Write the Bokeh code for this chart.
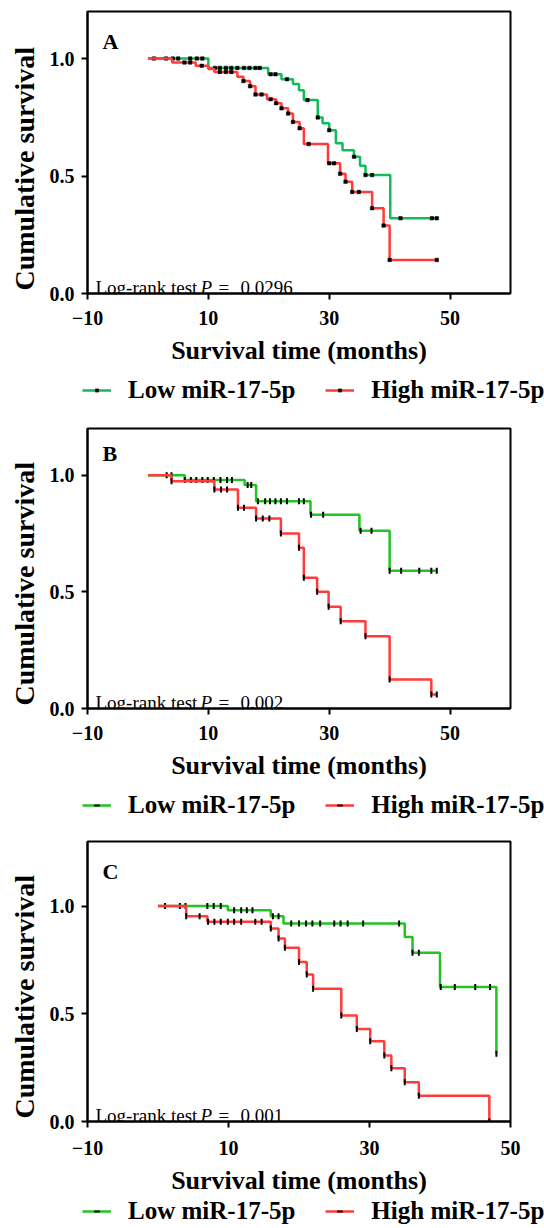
import numpy as np
from bokeh.plotting import figure
from bokeh.models import Range1d, FixedTicker, NumeralTickFormatter, Label, Legend, LegendItem, Title
from bokeh.layouts import column
from bokeh.embed import file_html
from bokeh.resources import INLINE

FONT = "Liberation Serif"

# ---------------- data ----------------
x_ticks = [-10, 10, 30, 50]
y_ticks = [0.0, 0.5, 1.0]
group_names = ["Low miR-17-5p", "High miR-17-5p"]

# Panel A
a_low_t = [0, 10.0, 19.9, 22.1, 24.0, 25.0, 25.8, 28.1, 28.9, 30.0, 31.1, 32.2, 34.1, 35.1, 36.0, 40.1, 47.8]
a_low_s = [1.0, 0.960, 0.933, 0.912, 0.891, 0.865, 0.823, 0.749, 0.724, 0.695, 0.639, 0.610, 0.582, 0.544, 0.504, 0.320, 0.320]
a_low_cens = [1.0, 3.0, 4.1, 5.0, 7.0, 8.1, 9.0, 11.1, 11.9, 12.9, 13.8, 14.8, 15.9, 16.8, 17.8, 18.5,
              20.3, 21.1, 23.0, 26.4, 28.1, 30.0, 34.1, 36.0, 37.1, 41.8, 47.0, 47.8]
a_high_t = [0, 4.0, 7.9, 10.0, 11.0, 14.8, 15.8, 16.9, 17.8, 19.7, 21.2, 22.1, 23.2, 24.0, 25.1, 25.8,
            29.8, 31.8, 32.7, 33.8, 37.1, 39.0, 40.0, 47.8]
a_high_s = [1.0, 0.983, 0.969, 0.955, 0.943, 0.922, 0.904, 0.882, 0.847, 0.827, 0.810, 0.788, 0.766, 0.730,
            0.703, 0.636, 0.554, 0.510, 0.476, 0.432, 0.363, 0.289, 0.143, 0.143]
a_high_cens = [6.05, 7.0, 8.9, 11.9, 12.9, 13.8, 15.8, 16.9, 17.8, 18.8, 20.3, 21.2, 22.1, 23.2, 24.0, 25.1,
               26.6, 30.0, 30.8, 31.8, 32.7, 33.8, 34.9, 37.1, 39.0, 40.0, 47.8]
a_pvalue = "0.0296"

# Panel B
b_low_t = [0, 6.1, 16.0, 17.9, 26.9, 35.0, 40.0, 47.8]
b_low_s = [1.0, 0.979, 0.958, 0.888, 0.830, 0.762, 0.590, 0.590]
b_low_cens = [3.1, 3.9, 6.1, 7.1, 8.0, 9.0, 9.9, 10.9, 12.0, 13.1, 13.9, 16.5, 17.1, 18.2, 19.4, 20.2, 21.1,
              22.0, 23.0, 25.0, 25.8, 27.0, 29.0, 35.2, 37.0, 40.0, 41.9, 44.9, 46.9, 47.8]
b_high_t = [0, 3.9, 11.0, 14.9, 17.9, 22.0, 25.0, 25.8, 28.0, 29.9, 31.9, 36.0, 40.0, 46.9, 47.8]
b_high_s = [1.0, 0.974, 0.939, 0.860, 0.814, 0.750, 0.689, 0.560, 0.500, 0.436, 0.374, 0.310, 0.124, 0.060, 0.060]
b_high_cens = [3.9, 11.0, 12.1, 13.1, 14.9, 15.9, 17.9, 19.0, 20.1, 22.0, 25.0, 25.8, 28.0, 29.9, 31.9,
               36.0, 40.0, 46.9, 47.8]
b_pvalue = "0.002"

# Panel C
c_low_t = [0, 9.9, 16.0, 17.8, 35.0, 36.1, 40.0, 48.0]
c_low_s = [1.0, 0.981, 0.953, 0.919, 0.857, 0.783, 0.624, 0.314]
c_low_cens = [1.0, 3.1, 3.9, 7.0, 7.9, 8.9, 10.8, 11.8, 12.6, 13.4, 16.3, 17.1, 18.9, 20.0, 21.0, 21.9,
              23.0, 25.0, 25.9, 26.9, 29.1, 34.2, 36.1, 37.0, 40.1, 42.1, 45.0, 47.1, 48.0]
c_high_t = [0, 4.0, 7.0, 16.0, 17.1, 18.0, 20.0, 21.1, 22.0, 26.0, 28.2, 30.1, 32.1, 33.1, 35.0, 37.0, 47.0]
c_high_s = [1.0, 0.953, 0.927, 0.896, 0.850, 0.807, 0.741, 0.683, 0.616, 0.492, 0.430, 0.373, 0.306,
            0.247, 0.182, 0.120, 0.0]
c_high_cens = [4.0, 5.9, 7.1, 8.0, 8.9, 9.9, 10.8, 11.8, 13.8, 14.7, 16.0, 17.1, 18.0, 20.0, 21.1, 22.0,
               26.0, 28.2, 30.1, 32.1, 33.1, 35.0, 37.0, 47.0]
c_pvalue = "0.001"

RED = "#ff3b3b"
W = 544


def surv_at(times, surv, t):
    idx = np.searchsorted(np.asarray(times), np.asarray(t), side="right") - 1
    return np.asarray(surv)[idx]


def style_marks(p, col, marker, xs, ys, ts, ss):
    r_line = p.step(ts, ss, mode="after", line_color=col, line_width=2.5)
    if marker == "dot":
        r_m = p.scatter(xs, ys, marker="square", size=3.5, fill_color="black", line_color="black",
                        line_width=0.5)
    else:
        r_m = p.scatter(xs, ys, marker="dash", angle=np.pi / 2, size=6, line_color="black",
                        line_width=2)
    return r_line, r_m


def make_panel(letter, low, high, pval, x_end, y_end, height, border_left, border_top, border_bottom,
               green, marker, letter_dy, tick_standoff):
    p = figure(width=W, height=height, x_range=Range1d(-10, x_end), y_range=Range1d(0, y_end),
               output_backend="svg", toolbar_location=None, frame_align=False,
               min_border_left=border_left, min_border_right=34,
               min_border_top=border_top, min_border_bottom=border_bottom)
    p.grid.visible = False
    p.outline_line_color = "black"
    p.outline_line_width = 2
    p.outline_line_alpha = 1
    p.background_fill_color = "white"
    p.border_fill_color = "white"

    for ax in (p.xaxis[0], p.yaxis[0]):
        ax.axis_line_width = 2
        ax.axis_line_color = "black"
        ax.major_tick_line_width = 2
        ax.major_tick_out = 6
        ax.major_tick_in = 0
        ax.minor_tick_line_color = None
        ax.major_label_text_font = FONT
        ax.major_label_text_font_style = "bold"
        ax.major_label_text_font_size = "20px"
        ax.major_label_text_color = "black"
    p.xaxis.major_label_standoff = tick_standoff
    p.yaxis.major_label_standoff = 7

    p.xaxis.ticker = FixedTicker(ticks=x_ticks)
    p.yaxis.ticker = FixedTicker(ticks=y_ticks)
    p.yaxis.formatter = NumeralTickFormatter(format="0.0")
    p.xaxis.axis_label = "Survival time (months)"
    p.xaxis.axis_label_text_font = FONT
    p.xaxis.axis_label_text_font_style = "bold"
    p.xaxis.axis_label_text_font_size = "26px"
    p.xaxis.axis_label_text_color = "black"
    p.xaxis.axis_label_standoff = 8

    ytitle = Title(text="Cumulative survival", align="left", offset=3, standoff=13,
                   text_font=FONT, text_font_size="28px", text_font_style="bold", text_color="black")
    p.add_layout(ytitle, "left")

    for (t, s, cens), col in ((low, green), (high, RED)):
        style_marks(p, col, marker, cens, surv_at(t, s, cens), t, s)

    # panel letter
    p.add_layout(Label(x=-10, y=y_end, x_offset=15, y_offset=-letter_dy, text=letter,
                       text_font=FONT, text_font_style="bold", text_font_size="22px",
                       text_baseline="top", text_color="black"))
    # log-rank text
    base = dict(x=-10, y=0, y_offset=6, text_font=FONT, text_font_size="19px",
                text_baseline="alphabetic", text_color="black")
    p.add_layout(Label(x_offset=8, text="Log-rank test", **base))
    p.add_layout(Label(x_offset=113, text="P", text_font_style="italic", **base))
    p.add_layout(Label(x_offset=131, text="=", **base))
    p.add_layout(Label(x_offset=153, text=pval, **base))
    return p


def make_legend(height, low, high, green, marker, lx, ly, gh):
    # the group renderers are kept out of view (y range above the data); only the key is shown
    q = figure(width=W, height=height, x_range=Range1d(0, 1), y_range=Range1d(10, 11),
               output_backend="svg", toolbar_location=None, x_axis_type=None, y_axis_type=None,
               frame_align=False,
               min_border_left=0, min_border_right=0, min_border_top=0, min_border_bottom=0)
    q.grid.visible = False
    q.outline_line_color = None
    q.background_fill_color = "white"
    q.border_fill_color = "white"
    rends = [style_marks(q, col, marker, cens, surv_at(t, s, cens), t, s)
             for (t, s, cens), col in ((low, green), (high, RED))]
    items = [LegendItem(label=group_names[i], renderers=list(rends[i])) for i in range(2)]
    legend = Legend(items=items, orientation="horizontal", location=(lx, ly),
                    glyph_width=29, glyph_height=gh, label_standoff=17, spacing=30,
                    padding=0, margin=0, border_line_color=None, background_fill_alpha=0,
                    label_text_font=FONT, label_text_font_style="bold", label_text_font_size="25px",
                    label_text_color="black")
    q.add_layout(legend, "center")
    return q


GREEN_A = "#14b95a"
GREEN_BC = "#22c322"

A_low, A_high = (a_low_t, a_low_s, a_low_cens), (a_high_t, a_high_s, a_high_cens)
B_low, B_high = (b_low_t, b_low_s, b_low_cens), (b_high_t, b_high_s, b_high_cens)
C_low, C_high = (c_low_t, c_low_s, c_low_cens), (c_high_t, c_high_s, c_high_cens)

pA = make_panel("A", A_low, A_high, a_pvalue, 60, 1.2, 372, 85, 11, 79, GREEN_A, "dot", 17, 11)
lA = make_legend(36, A_low, A_high, GREEN_A, "dot", 82, 4, 8)
pB = make_panel("B", B_low, B_high, b_pvalue, 60, 1.2, 379, 85, 20, 79, GREEN_BC, "tick", 12, 11)
lB = make_legend(36, B_low, B_high, GREEN_BC, "tick", 82, 4, 14)
pC = make_panel("C", C_low, C_high, c_pvalue, 50, 1.3, 374, 86, 18, 76, GREEN_BC, "tick", 17, 13)
lC = make_legend(31, C_low, C_high, GREEN_BC, "tick", 82, 3, 14)

layout = column(pA, lA, pB, lB, pC, lC, spacing=0)
open("out.html", "w").write(file_html(layout, INLINE))
